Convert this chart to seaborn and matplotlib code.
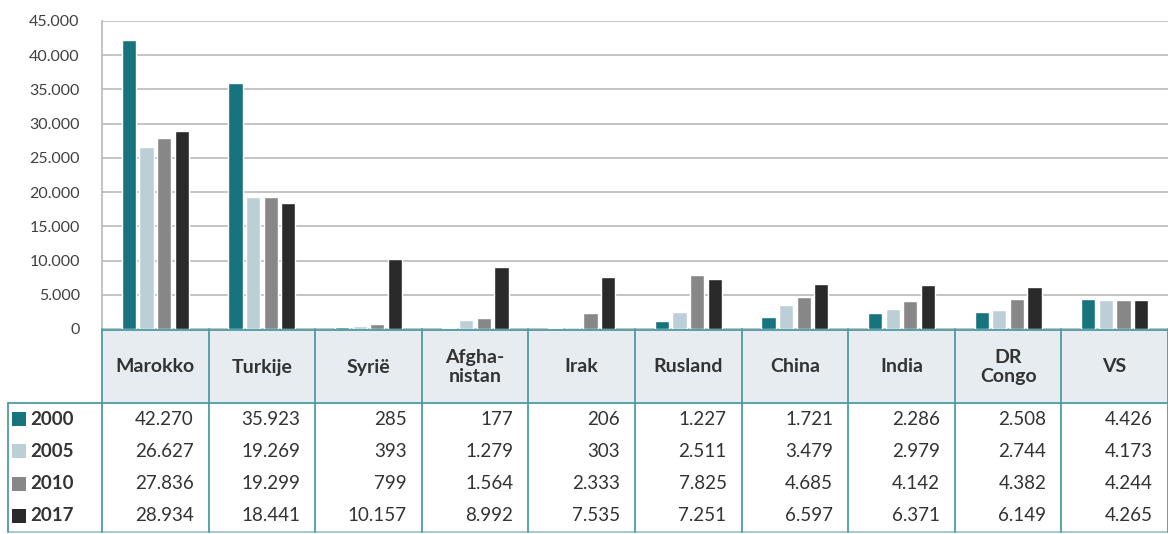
import matplotlib
matplotlib.use("Agg")
import matplotlib.pyplot as plt
import seaborn as sns
import pandas as pd
import numpy as np
from matplotlib.patches import Rectangle

countries = ["Marokko", "Turkije", "Syrië", "Afghanistan", "Irak", "Rusland", "China", "India", "DR Congo", "VS"]
header_labels = ["Marokko", "Turkije", "Syrië", "Afgha-\nnistan", "Irak", "Rusland", "China", "India", "DR\nCongo", "VS"]
years = ["2000", "2005", "2010", "2017"]
v2000 = [42270, 35923, 285, 177, 206, 1227, 1721, 2286, 2508, 4426]
v2005 = [26627, 19269, 393, 1279, 303, 2511, 3479, 2979, 2744, 4173]
v2010 = [27836, 19299, 799, 1564, 2333, 7825, 4685, 4142, 4382, 4244]
v2017 = [28934, 18441, 10157, 8992, 7535, 7251, 6597, 6371, 6149, 4265]
yticks = [0, 5000, 10000, 15000, 20000, 25000, 30000, 35000, 40000, 45000]
colors = ["#17747e", "#bccfd6", "#878787", "#2a2a2a"]

series = [v2000, v2005, v2010, v2017]
df = pd.DataFrame({
    "land": np.repeat([countries], 4, axis=0).ravel(),
    "jaar": np.repeat(years, len(countries)),
    "waarde": np.concatenate(series),
})

sns.set_theme(style="white")
plt.rcParams["font.family"] = ["Lato", "DejaVu Sans"]

W, H = 1168, 534
fig = plt.figure(figsize=(W / 100, H / 100), dpi=100)
L, T, B = 102, 21, 329
ax = fig.add_axes([L / W, 1 - B / H, 1 - L / W, (B - T) / H])

sns.barplot(data=df, x="land", y="waarde", hue="jaar", palette=colors,
            width=0.66, gap=0.2, ax=ax, legend=False, saturation=1, zorder=3)
ax.set_xlim(-0.5, 9.5)
ax.set_ylim(0, 45000)
ax.set_yticks(yticks)
ax.set_yticklabels([f"{v:,}".replace(",", ".") for v in yticks], fontsize=11.5, color="#404040")
ax.tick_params(axis="y", length=0, pad=16)
ax.set_xticks([])
ax.set_xlabel("")
ax.set_ylabel("")
ax.yaxis.grid(True, color="#c4c4c4", linewidth=1.4, zorder=0)
for s in ["top", "right", "bottom"]:
    ax.spines[s].set_visible(False)
ax.spines["left"].set_color("#b8b8b8")
ax.spines["left"].set_linewidth(1.2)

# table
colw = (W - L) / 10
def px2x(p):
    return -0.5 + (p - L) / colw

tab = fig.add_axes([L / W, 0, 1 - L / W, (H - B) / H])
tab.set_xlim(-0.5, 9.5)
tab.set_ylim(H, B)
tab.axis("off")
line_c = "#4d9ba4"
hdr_bot = 403
bottom = 532
tab.add_patch(Rectangle((-0.5, B), 10, hdr_bot - B, facecolor="#e6ecf0", edgecolor="none", zorder=1))
tab.plot([-0.5, 9.5], [B + 0.5, B + 0.5], color=line_c, lw=1.3, zorder=2, clip_on=False)
tab.plot([px2x(8), 9.5], [hdr_bot, hdr_bot], color=line_c, lw=1.3, zorder=2, clip_on=False)
tab.plot([px2x(8), 9.5], [bottom, bottom], color="#9cc7cc", lw=1.3, zorder=2, clip_on=False)
tab.plot([px2x(8), px2x(8)], [hdr_bot, bottom], color=line_c, lw=1.3, zorder=2, clip_on=False)
for i in range(11):
    tab.plot([i - 0.5, i - 0.5], [B, bottom], color=line_c, lw=1.3, zorder=2, clip_on=False)

for i, lab in enumerate(header_labels):
    tab.text(i, 367, lab, ha="center", va="center", fontsize=14, fontweight="bold",
             color="#333333", linespacing=1.1, zorder=3)

row_h = (bottom - hdr_bot) / 4
for r, (yr, vals) in enumerate(zip(years, series)):
    yc = hdr_bot + row_h * (r + 0.5)
    sq = 14 / colw
    tab.add_patch(Rectangle((px2x(12), yc - 7), sq, 14, facecolor=colors[r], edgecolor="none",
                            clip_on=False, zorder=3))
    tab.text(px2x(30), yc, yr, ha="left", va="center", fontsize=13.5, fontweight="bold",
             color="#333333", clip_on=False)
    for i, v in enumerate(vals):
        tab.text(i + 0.5 - 15 / colw, yc, f"{v:,}".replace(",", "."), ha="right", va="center",
                 fontsize=13.5, color="#333333")

fig.savefig("out.png", dpi=100)
